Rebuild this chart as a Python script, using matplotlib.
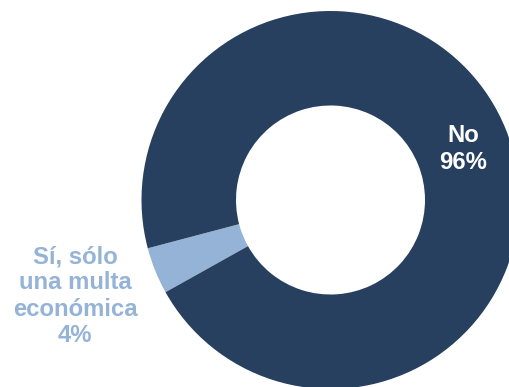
import matplotlib
matplotlib.use("Agg")
import matplotlib.pyplot as plt

categories = ["Sí, sólo\nuna multa\neconómica", "No"]
values = [4, 96]
colors = ["#95B3D7", "#27405F"]
label_colors = ["#95B3D7", "#FFFFFF"]

W, H = 510, 387
fig = plt.figure(figsize=(W / 100, H / 100), dpi=100)
cx, cy, R = 330.5, 200, 189
ax = fig.add_axes([(cx - R) / W, (H - cy - R) / H, 2 * R / W, 2 * R / H])
ax.pie(values, colors=colors, startangle=194.8, counterclock=True,
       wedgeprops=dict(width=0.5, edgecolor="none"), radius=1)
ax.set_xlim(-1, 1)
ax.set_ylim(-1, 1)
ax.set_aspect("equal")
ax.axis("off")

font = ["Liberation Sans", "DejaVu Sans"]
texts = [f"{categories[0]}\n{values[0]}%", f"{categories[1]}\n{values[1]}%"]
positions = [(75, 296), (463, 149)]
for t, (px, py), c in zip(texts, positions, label_colors):
    fig.text(px / W, 1 - py / H, t, ha="center", va="center", color=c,
             fontsize=17.2, fontweight="bold", family=font, linespacing=1.18)

fig.savefig("out.png", dpi=100)
